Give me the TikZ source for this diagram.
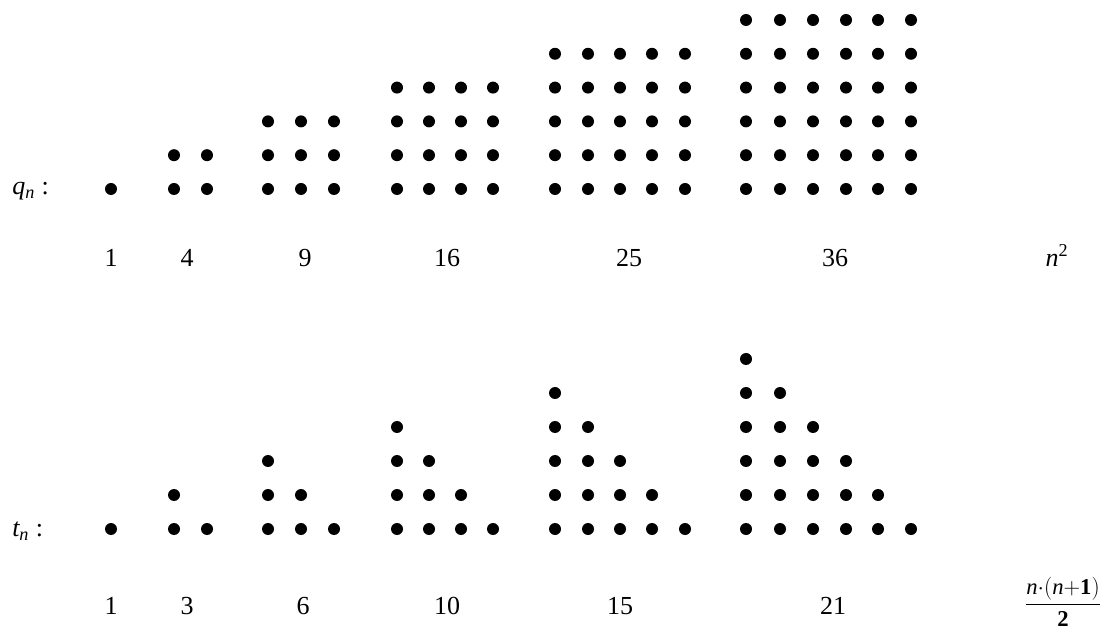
\documentclass[tikz,border=0pt]{standalone}
\usepackage{fontspec}
\setmainfont{Liberation Serif}
\begin{document}
\begin{tikzpicture}[x=0.75pt,y=-0.75pt,
  dot/.style={circle,fill=black,inner sep=0pt,minimum size=9pt},
  lab/.style={font=\fontsize{19.5}{22}\selectfont,inner sep=0pt}]
\useasboundingbox (0,0) rectangle (1106,630);
% squares
\foreach \xs [count=\n] in {{111},{174,207},{268,301,334},{397,429,461,493},{555,588,620,652,685},{746,780,813,846,878,911}}{
  \foreach \x [count=\i] in \xs {
    \foreach \r in {1,...,\n}{
      \node[dot] (q-\n-\i-\r) at (\x,{189-(\r-1)*33.8}) {};
    }
  }
}
% triangles
\foreach \xs [count=\n] in {{111},{174,207},{268,301,334},{397,429,461,493},{555,588,620,652,685},{746,780,813,846,878,911}}{
  \foreach \x [count=\i] in \xs {
    \pgfmathtruncatemacro{\top}{\n-\i+1}
    \foreach \r in {1,...,\top}{
      \node[dot] (t-\n-\i-\r) at (\x,{529-(\r-1)*34}) {};
    }
  }
}
\node[lab,anchor=west] (qlab) at (12,191) {\textit{q\textsubscript{n}} :};
\node[lab,anchor=west] (tlab) at (12,531) {\textit{t\textsubscript{n}} :};
\foreach \v/\x in {1/111,4/187,9/305,16/447,25/629,36/835}{
  \node[lab] (qn-\v) at (\x,258) {\v};
}
\foreach \v/\x in {1/111,3/187,6/303,10/447,15/620,21/833}{
  \node[lab] (tn-\v) at (\x,606) {\v};
}
\node[lab] (nsq) at (1057,255) {\textit{n}\textsuperscript{2}};
\node[inner sep=0pt,font=\fontsize{17}{20}\selectfont] (frac) at (1063,602) {$\displaystyle\mathbf{\frac{\mathit{n}{\cdot}(\mathit{n}{+}1)}{2}}$};
\end{tikzpicture}
\end{document}
